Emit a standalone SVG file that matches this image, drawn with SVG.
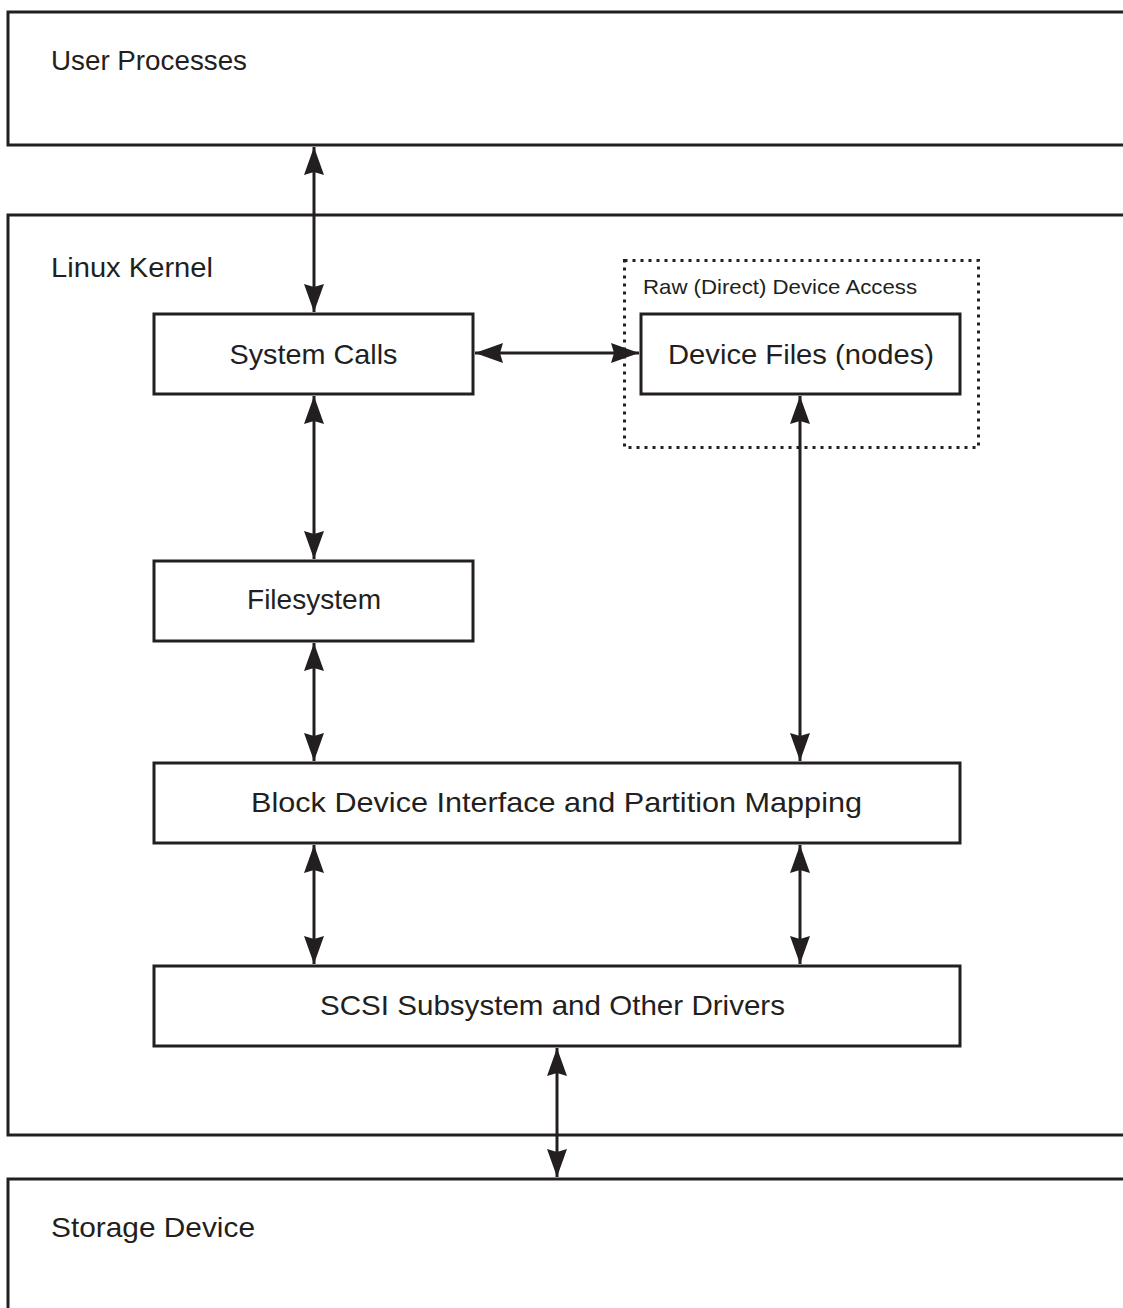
<svg xmlns="http://www.w3.org/2000/svg" width="1123" height="1308" viewBox="0 0 1123 1308">
<style>
.box{fill:#fff;stroke:#231f20;stroke-width:3}
.dot{fill:none;stroke:#231f20;stroke-width:3;stroke-dasharray:3 5}
.lbl{font-family:"Liberation Sans",Arial,sans-serif;font-size:28px;fill:#231f20}
.sm{font-family:"Liberation Sans",Arial,sans-serif;font-size:21px;fill:#231f20}
.c{stroke:#231f20;stroke-width:3;fill:none;marker-start:url(#a);marker-end:url(#a)}
</style>
<defs>
<marker id="a" viewBox="0 0 28 20" refX="28" refY="10" markerWidth="28" markerHeight="20" markerUnits="userSpaceOnUse" orient="auto-start-reverse">
<path d="M0,0 L28,10 L0,20 L3,10 Z" fill="#231f20"/>
</marker>
</defs>
<rect width="1123" height="1308" fill="#fff"/>
<g id="user-processes">
<rect class="box" x="8" y="12" width="1125" height="133"/>
<text class="lbl" x="51" y="70" textLength="196" lengthAdjust="spacingAndGlyphs">User Processes</text>
</g>
<g id="linux-kernel">
<rect class="box" x="8" y="215" width="1125" height="920"/>
<text class="lbl" x="51" y="277" textLength="162" lengthAdjust="spacingAndGlyphs">Linux Kernel</text>
</g>
<g id="storage-device">
<rect class="box" x="8" y="1179" width="1125" height="140"/>
<text class="lbl" x="51" y="1237" textLength="204" lengthAdjust="spacingAndGlyphs">Storage Device</text>
</g>
<g id="raw-access">
<rect class="dot" x="624.5" y="260.5" width="354" height="187"/>
<text class="sm" x="643" y="294" textLength="274" lengthAdjust="spacingAndGlyphs">Raw (Direct) Device Access</text>
</g>
<g id="system-calls">
<rect class="box" x="154" y="314" width="319" height="80"/>
<text class="lbl" x="313.5" y="364" text-anchor="middle" textLength="168" lengthAdjust="spacingAndGlyphs">System Calls</text>
</g>
<g id="device-files">
<rect class="box" x="641" y="314" width="319" height="80"/>
<text class="lbl" x="801" y="364" text-anchor="middle" textLength="266" lengthAdjust="spacingAndGlyphs">Device Files (nodes)</text>
</g>
<g id="filesystem">
<rect class="box" x="154" y="561" width="319" height="80"/>
<text class="lbl" x="314" y="609" text-anchor="middle" textLength="134" lengthAdjust="spacingAndGlyphs">Filesystem</text>
</g>
<g id="block-device">
<rect class="box" x="154" y="763" width="806" height="80"/>
<text class="lbl" x="556.5" y="812" text-anchor="middle" textLength="611" lengthAdjust="spacingAndGlyphs">Block Device Interface and Partition Mapping</text>
</g>
<g id="scsi">
<rect class="box" x="154" y="966" width="806" height="80"/>
<text class="lbl" x="552.5" y="1015" text-anchor="middle" textLength="465" lengthAdjust="spacingAndGlyphs">SCSI Subsystem and Other Drivers</text>
</g>
<g id="connectors">
<line class="c" x1="314" y1="147" x2="314" y2="312"/>
<line class="c" x1="475" y1="353" x2="639" y2="353"/>
<line class="c" x1="314" y1="396" x2="314" y2="559"/>
<line class="c" x1="314" y1="643" x2="314" y2="761"/>
<line class="c" x1="800" y1="396" x2="800" y2="761"/>
<line class="c" x1="314" y1="845" x2="314" y2="964"/>
<line class="c" x1="800" y1="845" x2="800" y2="964"/>
<line class="c" x1="557" y1="1048" x2="557" y2="1177"/>
</g>
</svg>
